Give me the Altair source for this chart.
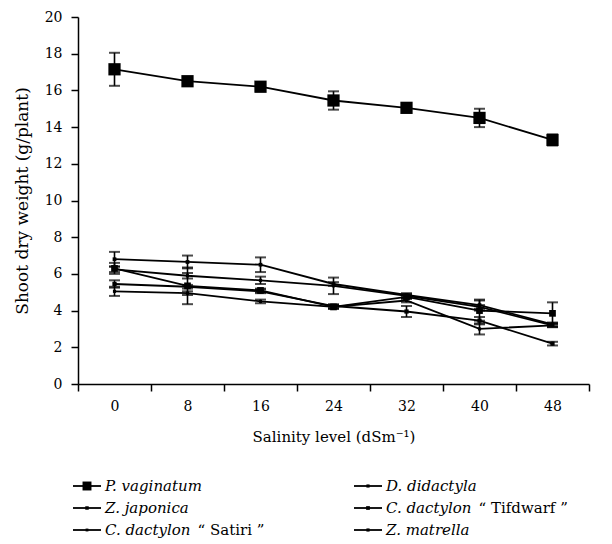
import altair as alt
import pandas as pd

salinity = [0, 8, 16, 24, 32, 40, 48]

names = ["P. vaginatum", "Z. japonica", "C. dactylon Satiri",
         "D. didactyla", "C. dactylon Tifdwarf", "Z. matrella"]

p_vag = [17.15, 16.5, 16.2, 15.45, 15.05, 14.5, 13.3]
p_vag_err = [0.9, 0.15, 0.15, 0.5, 0.15, 0.5, 0.3]

z_jap = [6.8, 6.65, 6.5, 5.45, 4.85, 4.3, 3.25]
z_jap_err = [0.4, 0.35, 0.4, 0.1, 0.1, 0.3, 0.1]

c_sat = [6.25, 5.9, 5.65, 5.35, 4.8, 4.2, 3.2]
c_sat_err = [0.15, 0.15, 0.2, 0.45, 0.1, 0.1, 0.1]

d_did = [6.3, 5.35, 5.1, 4.2, 4.75, 4.0, 3.85]
d_did_err = [0.3, 1.0, 0.1, 0.1, 0.1, 0.55, 0.6]

c_tif = [5.45, 5.3, 5.05, 4.25, 3.95, 3.45, 2.2]
c_tif_err = [0.2, 0.1, 0.1, 0.1, 0.3, 0.2, 0.1]

z_mat = [5.05, 4.95, 4.5, 4.2, 4.55, 3.0, 3.2]
z_mat_err = [0.25, 0.1, 0.1, 0.1, 0.1, 0.3, 0.1]

means = [p_vag, z_jap, c_sat, d_did, c_tif, z_mat]
errs = [p_vag_err, z_jap_err, c_sat_err, d_did_err, c_tif_err, z_mat_err]
marker_sizes = [150, 14, 10, 45, 18, 10]

leg_italic = ["P. vaginatum", "Z. japonica", "C. dactylon",
              "D. didactyla", "C. dactylon", "Z. matrella"]
leg_suffix = ["", "", "\u201c Satiri \u201d", "", "\u201c Tifdwarf \u201d", ""]
leg_col = [0, 0, 0, 1, 1, 1]
leg_row = [0, 1, 2, 0, 1, 2]
leg_size = [80, 12, 8, 10, 14, 10]

rows = []
for n, m, e, s in zip(names, means, errs, marker_sizes):
    for x, v, d in zip(salinity, m, e):
        rows.append({"series": n, "sal": x, "val": v, "lo": v - d, "hi": v + d, "msize": s})
df = pd.DataFrame(rows)

leg = pd.DataFrame({"italic": leg_italic, "suffix": leg_suffix,
                    "col": leg_col, "row": leg_row, "msize": leg_size})

FONT = "DejaVu Serif"
LEG_FS = 15

xscale = alt.Scale(domain=[-4, 52], nice=False, zero=False)
yscale = alt.Scale(domain=[0, 20], nice=False)

xaxis = alt.Axis(
    values=list(range(-4, 53, 4)),
    labelExpr="(datum.value >= 0 && datum.value % 8 == 0) ? datum.label : ''",
    tickOpacity={"condition": {"test": "datum.value % 8 != 0", "value": 1}, "value": 0},
    labelOverlap=False, labelFlush=False, grid=False,
    tickSize=7, labelPadding=8,
    title="Salinity level (dSm\u207b\u00b9)", titleFontSize=15, titlePadding=16,
)
yaxis = alt.Axis(
    values=list(range(0, 21, 2)), grid=False, labelOverlap=False,
    tickSize=7, labelPadding=9,
    title="Shoot dry weight (g/plant)", titleFontSize=17, titlePadding=13,
)

base = alt.Chart(df)

lines = base.mark_line(color="black", strokeWidth=1.8).encode(
    x=alt.X("sal:Q", scale=xscale, axis=xaxis),
    y=alt.Y("val:Q", scale=yscale, axis=yaxis),
    detail="series:N",
)
bars = base.mark_rule(color="black", strokeWidth=1.6).encode(
    x=alt.X("sal:Q", scale=xscale, axis=xaxis),
    y=alt.Y("lo:Q", scale=yscale, axis=yaxis), y2="hi:Q"
)
cap_lo = base.mark_tick(orient="horizontal", color="black", size=11, thickness=2).encode(
    x=alt.X("sal:Q", scale=xscale, axis=xaxis),
    y=alt.Y("lo:Q", scale=yscale, axis=yaxis)
)
cap_hi = base.mark_tick(orient="horizontal", color="black", size=11, thickness=2).encode(
    x=alt.X("sal:Q", scale=xscale, axis=xaxis),
    y=alt.Y("hi:Q", scale=yscale, axis=yaxis)
)
pts = base.mark_point(shape="square", filled=True, color="black", opacity=1).encode(
    x=alt.X("sal:Q", scale=xscale, axis=xaxis),
    y=alt.Y("val:Q", scale=yscale, axis=yaxis),
    size=alt.Size("msize:Q", scale=None, legend=None),
)

main = alt.layer(lines, bars, cap_lo, cap_hi, pts)

lbase = alt.Chart(leg)
lx = alt.X("col:Q", scale=alt.Scale(domain=[0, 1], range=[9, 290]), axis=None)
ly = alt.Y("row:Q", scale=alt.Scale(domain=[0, 2], range=[469, 513]), axis=None)

lrule = lbase.mark_rule(color="black", strokeWidth=1.8, xOffset=-14, x2Offset=14).encode(
    x=lx, x2="col:Q", y=ly
)
lpts = lbase.mark_point(shape="square", filled=True, color="black", opacity=1).encode(
    x=lx, y=ly, size=alt.Size("msize:Q", scale=None, legend=None)
)
ltxt = lbase.mark_text(align="left", baseline="middle", dx=18, font=FONT,
                       fontSize=LEG_FS, fontStyle="italic", color="black").encode(
    x=lx, y=ly, text="italic:N"
)
lsuf = lbase.transform_filter("datum.suffix != ''").mark_text(
    align="left", baseline="middle", dx=18 + 5.9 * LEG_FS + 4, font=FONT,
    fontSize=LEG_FS, color="black"
).encode(x=lx, y=ly, text="suffix:N")

legend = alt.layer(lrule, lpts, ltxt, lsuf)

chart = alt.layer(main, legend).resolve_scale(
    x="independent", y="independent", size="independent"
).properties(
    width=511, height=367,
    padding={"left": 5, "top": 2, "right": 5, "bottom": 5},
).configure_view(stroke=None).configure_axis(
    labelOverlap=False, labelFont=FONT, labelFontSize=14, labelColor="black",
    titleFont=FONT, titleFontWeight="normal", titleColor="black",
    domainColor="black", domainWidth=1.5, tickColor="black", tickWidth=1.5,
).configure_text(font=FONT)

chart.save("out.html", embed_options={"renderer": "svg", "actions": False})
